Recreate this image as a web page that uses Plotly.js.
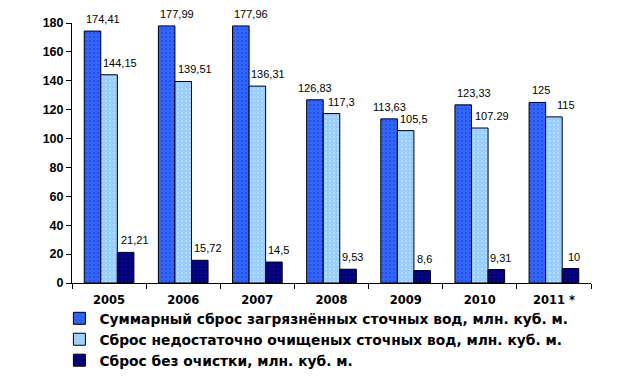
<!DOCTYPE html>
<html><head><meta charset="utf-8">
<script src="https://cdn.plot.ly/plotly-3.0.1.min.js"></script>
<style>html,body{margin:0;padding:0;background:#fff;}#c{width:635px;height:388px;}</style>
</head><body><div id="c"></div>
<script>
const years = ["2005","2006","2007","2008","2009","2010","2011 *"];
const seriesNames = [
  "Суммарный сброс загрязнённых сточных вод, млн. куб. м.",
  "Сброс недостаточно очищеных сточных вод, млн. куб. м.",
  "Сброс без очистки, млн. куб. м."
];
const totalDischarge = [174.41,177.99,177.96,126.83,113.63,123.33,125];
const insufficientlyTreated = [144.15,139.51,136.31,117.3,105.5,107.29,115];
const untreated = [21.21,15.72,14.5,9.53,8.6,9.31,10];
const totalLabels = ["174,41","177,99","177,96","126,83","113,63","123,33","125"];
const treatedLabels = ["144,15","139,51","136,31","117,3","105,5","107.29","115"];
const untreatedLabels = ["21,21","15,72","14,5","9,53","8,6","9,31","10"];

const values = [totalDischarge, insufficientlyTreated, untreated];
const labels = [totalLabels, treatedLabels, untreatedLabels];
const colors = ["#3366FF","#99CCFF","#000080"];
const dotColors = ["#1a3fd9","#c8ecff","#1a1a66"];
// small label nudges (px) to mimic original placement
const labelDx = [[10,10,10,0,0,11,4],[11,12,11,10,8,12,12],[9,8,5,4,2,4,4]];

const W=635,H=388, mL=72, mR=44, mT=23, mB=103;
const plotW = W-mL-mR, plotH = H-mT-mB;
const catW = plotW/years.length;
const bargap = 0.33;
const barW = catW*(1-bargap)/3;

const traces = values.map((v,i)=>({
  type:"bar", x:years, y:v, name:seriesNames[i],
  marker:{color:colors[i], line:{color:"#000", width:1},
    pattern:{shape:".", fgcolor:dotColors[i], bgcolor:colors[i], size:4, solidity:0.15}},
  hoverinfo:"none"
}));

const annotations=[];
values.forEach((v,i)=>{
  v.forEach((val,j)=>{
    annotations.push({x:j, y:val, text:labels[i][j], showarrow:false,
      xanchor:"center", yanchor:"bottom",
      xshift:(i-1)*barW + labelDx[i][j], yshift:4,
      font:{family:"Liberation Sans, Arial, sans-serif", size:11, color:"#000"}});
  });
});

const layout={
  width:W,height:H, margin:{l:mL,r:mR,t:mT,b:mB},
  paper_bgcolor:"#fff", plot_bgcolor:"#fff",
  barmode:"group", bargap:bargap, bargroupgap:0,
  showlegend:true,
  legend:{x:(59.4-mL)/plotW, xanchor:"left", y:-20/plotH, yanchor:"top", orientation:"v",
    tracegroupgap:0, font:{family:"DejaVu Sans, sans-serif", size:13.8, color:"#000", weight:"bold"},
    bgcolor:"rgba(0,0,0,0)"},
  xaxis:{type:"category", range:[-0.5, years.length-0.5], showline:true, linecolor:"#000", linewidth:1,
    ticks:"outside", tickson:"boundaries", ticklen:5, tickcolor:"#000", ticklabelstandoff:6,
    showgrid:false, zeroline:false,
    tickfont:{family:"DejaVu Sans, sans-serif", size:11.5, color:"#000", weight:"bold"}},
  yaxis:{range:[0,180], tickvals:[0,20,40,60,80,100,120,140,160,180], showline:true, linecolor:"#000", linewidth:1,
    ticks:"outside", ticklen:5, tickcolor:"#000", showgrid:false, zeroline:false,
    tickfont:{family:"Liberation Sans, Arial, sans-serif", size:12.5, color:"#000", weight:"bold"}},
  annotations:annotations
};
Plotly.newPlot("c", traces, layout, {staticPlot:true, displayModeBar:false});
</script></body></html>
